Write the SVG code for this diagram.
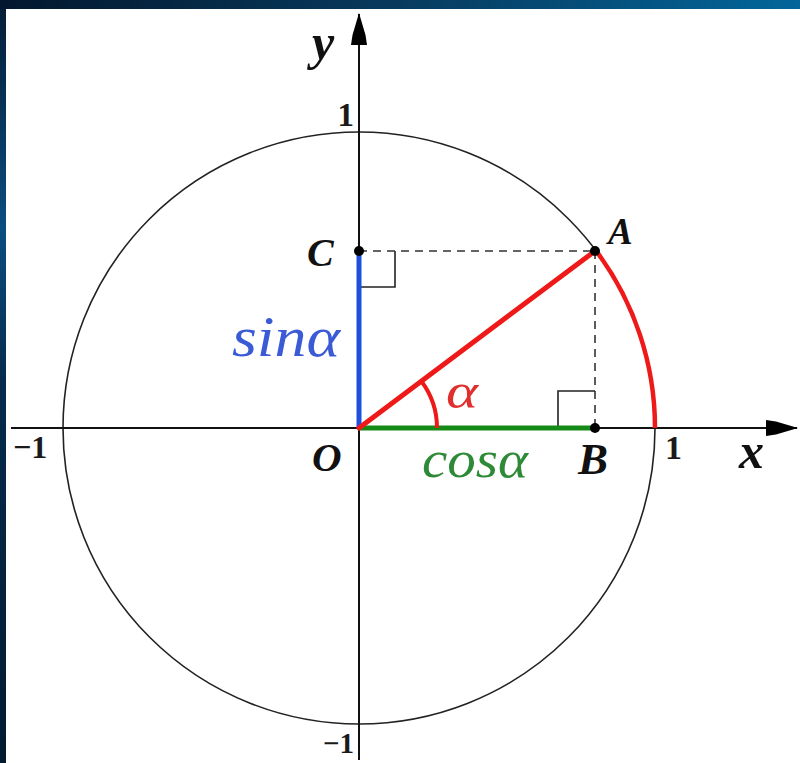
<svg xmlns="http://www.w3.org/2000/svg" width="800" height="763" viewBox="0 0 800 763">
<defs>
<linearGradient id="topband" x1="0" y1="0" x2="1" y2="0">
<stop offset="0" stop-color="#03182e"/>
<stop offset="0.5" stop-color="#083a5e"/>
<stop offset="1" stop-color="#02669a"/>
</linearGradient>
<linearGradient id="leftband" x1="0" y1="0" x2="0" y2="1">
<stop offset="0" stop-color="#041c34"/>
<stop offset="0.3" stop-color="#0b4d80"/>
<stop offset="0.5" stop-color="#062b4c"/>
<stop offset="1" stop-color="#031a30"/>
</linearGradient>
<marker id="arrow" viewBox="0 -10 32 20" refX="31" refY="0" markerWidth="32" markerHeight="20" markerUnits="userSpaceOnUse" orient="auto">
<path d="M32,0 L10,-6.5 L0,-8 L0,8 L10,6.5 Z" fill="#000"/>
</marker>
<style>
.axis{stroke:#111;stroke-width:2;fill:none}
.circ{stroke:#222;stroke-width:1.6;fill:none}
.dash{stroke:#333;stroke-width:1.6;stroke-dasharray:8 6;fill:none}
.sq{stroke:#222;stroke-width:1.6;fill:none}
.lbl{font-family:"Times New Roman","Liberation Serif",Tinos,serif;font-weight:bold;font-style:italic;fill:#111}
.num{font-family:"Times New Roman","Liberation Serif",Tinos,serif;font-weight:bold;fill:#1a1a1a}
.math{font-family:"Times New Roman","Liberation Serif",Tinos,serif;font-style:italic}
.dot{fill:#000}
</style>
</defs>
<rect x="0" y="0" width="800" height="763" fill="url(#leftband)"/>
<rect x="0" y="0" width="800" height="9" fill="url(#topband)"/>
<rect x="6" y="9" width="794" height="754" fill="#ffffff"/>

<g id="unit-circle">
<circle class="circ" cx="359" cy="428" r="296"/>
</g>

<g id="connectors">
<line id="x-axis" class="axis" x1="11" y1="428" x2="797" y2="428" marker-end="url(#arrow)"/>
<line id="y-axis" class="axis" x1="359" y1="760" x2="359" y2="14" marker-end="url(#arrow)"/>
<line id="CA" class="dash" x1="359" y1="251" x2="595" y2="251"/>
<line id="AB" class="dash" x1="595" y1="251" x2="595" y2="428"/>
<path id="right-angle-C" class="sq" d="M359,287 H395 V251"/>
<path id="right-angle-B" class="sq" d="M558,428 V391 H595"/>
<line id="OC" x1="359" y1="428" x2="359" y2="251" stroke="#1f4fdc" stroke-width="5"/>
<line id="OB" x1="359" y1="428" x2="595" y2="428" stroke="#168a16" stroke-width="5"/>
<line id="OA" x1="359" y1="428" x2="595.8" y2="250.4" stroke="#ee1a1a" stroke-width="5" stroke-linecap="round"/>
<path id="arc-AD" d="M595.8,250.4 A296,296 0 0 1 655,428" stroke="#ee1a1a" stroke-width="4.5" fill="none"/>
<path id="angle-arc" d="M421.4,381.2 A78,78 0 0 1 437,428" stroke="#ee1a1a" stroke-width="4" fill="none"/>
</g>

<g id="node-O">
<text class="lbl" x="312" y="471" font-size="41">O</text>
</g>
<g id="node-A">
<circle class="dot" cx="595" cy="251" r="5"/>
<text class="lbl" x="608" y="244" font-size="37">A</text>
</g>
<g id="node-B">
<circle class="dot" cx="595" cy="428" r="5"/>
<text class="lbl" x="578" y="474" font-size="45">B</text>
</g>
<g id="node-C">
<circle class="dot" cx="359" cy="251" r="5"/>
<text class="lbl" x="307" y="266" font-size="40">C</text>
</g>

<g id="axis-labels">
<text class="lbl" x="312" y="59" font-size="50">y</text>
<text class="lbl" x="739" y="468" font-size="50">x</text>
<text class="num" x="354" y="126" font-size="33" text-anchor="end">1</text>
<text class="num" x="665" y="459" font-size="34">1</text>
<text class="num" x="13" y="458" font-size="32">−1</text>
<text class="num" x="354" y="753" font-size="29" text-anchor="end">−1</text>
</g>

<g id="math-labels">
<text class="math" x="232" y="356" font-size="56" fill="#3b5bd6" textLength="108" lengthAdjust="spacingAndGlyphs">sinα</text>
<text class="math" x="422" y="477" font-size="52" fill="#2e8a36" textLength="106" lengthAdjust="spacingAndGlyphs">cosα</text>
<text class="math" x="446" y="408" font-size="50" fill="#e0302e" textLength="32" lengthAdjust="spacingAndGlyphs">α</text>
</g>
</svg>
